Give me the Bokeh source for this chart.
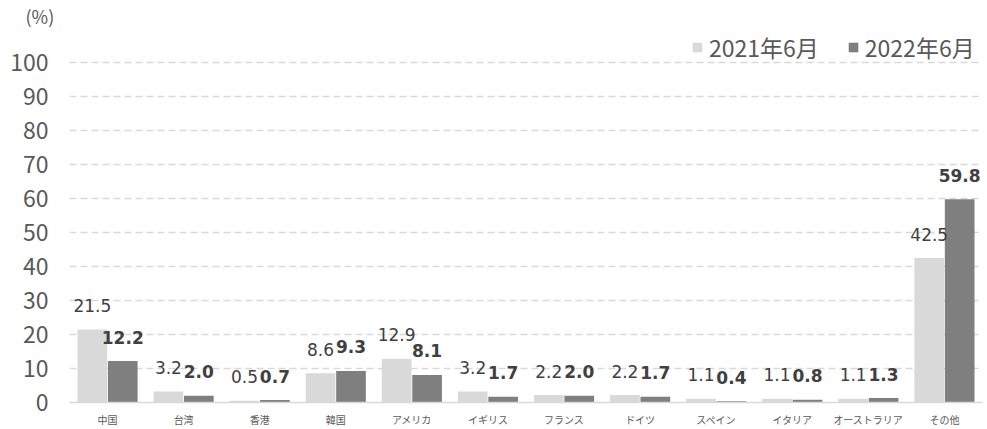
from bokeh.plotting import figure
from bokeh.models import FactorRange, Range1d, ColumnDataSource, FixedTicker
from bokeh.transform import dodge
from bokeh.core.properties import value
from bokeh.embed import file_html
from bokeh.resources import INLINE

categories = ["中国", "台湾", "香港", "韓国", "アメリカ", "イギリス", "フランス", "ドイツ", "スペイン", "イタリア", "オーストラリア", "その他"]
share_2021 = [21.5, 3.2, 0.5, 8.6, 12.9, 3.2, 2.2, 2.2, 1.1, 1.1, 1.1, 42.5]
share_2022 = [12.2, 2.0, 0.7, 9.3, 8.1, 1.7, 2.0, 1.7, 0.4, 0.8, 1.3, 59.8]
series_names = ["2021年6月", "2022年6月"]
y_ticks = list(range(0, 101, 10))

src = ColumnDataSource(dict(
    cat=categories,
    v2021=share_2021,
    v2022=share_2022,
    l2021=[f"{v:.1f}" for v in share_2021],
    l2022=[f"{v:.1f}" for v in share_2022],
))

JP = "Noto Sans CJK JP"
GRAY_TXT = "#595959"

p = figure(width=987, height=429, x_range=FactorRange(*categories), y_range=Range1d(0, 110.0),
           output_backend="svg", toolbar_location=None,
           min_border_left=69, min_border_right=5, min_border_top=0, min_border_bottom=27)
p.outline_line_color = None
p.background_fill_color = "white"
p.border_fill_color = "white"

p.title.text = "(%)"
p.title.align = "left"
p.title.offset = -44
p.title.standoff = 0
p.title.text_font = JP
p.title.text_font_size = "18px"
p.title.text_font_style = "normal"
p.title.text_color = GRAY_TXT

p.xgrid.grid_line_color = None
p.ygrid.grid_line_color = "#d9d9d9"
p.ygrid.grid_line_width = 1.5
p.ygrid.grid_line_dash = "7 4"

p.yaxis.ticker = FixedTicker(ticks=y_ticks)
p.yaxis.axis_line_color = None
p.yaxis.major_tick_line_color = None
p.yaxis.minor_tick_line_color = None
p.yaxis.major_label_standoff = 15
p.yaxis.major_label_text_font = JP
p.yaxis.major_label_text_font_size = "23px"
p.yaxis.major_label_text_color = GRAY_TXT

p.xaxis.axis_line_color = "#d9d9d9"
p.xaxis.axis_line_width = 1.5
p.xaxis.major_tick_line_color = None
p.xaxis.minor_tick_line_color = None
p.xaxis.major_label_standoff = 3
p.xaxis.major_label_text_font = JP
p.xaxis.major_label_text_font_size = "10px"
p.xaxis.major_label_text_color = GRAY_TXT

p.vbar(x=dodge("cat", -0.2, range=p.x_range), top="v2021", width=0.39, source=src,
       fill_color="#d9d9d9", line_color=None, legend_label=series_names[0])
p.vbar(x=dodge("cat", 0.2, range=p.x_range), top="v2022", width=0.39, source=src,
       fill_color="#7f7f7f", line_color=None, legend_label=series_names[1])

p.text(x=dodge("cat", -0.2, range=p.x_range), y="v2021", text="l2021", source=src,
       text_align="center", text_baseline="alphabetic", y_offset=-24,
       text_font=value("DejaVu Sans"), text_font_size="17px", text_color="#404040")
p.text(x=dodge("cat", 0.2, range=p.x_range), y="v2022", text="l2022", source=src,
       text_align="center", text_baseline="alphabetic", y_offset=-24,
       text_font=value("DejaVu Sans"), text_font_size="17px", text_font_style="bold",
       text_color="#404040")

lg = p.legend[0]
lg.location = (622, 338)
lg.orientation = "horizontal"
lg.margin = 0
lg.padding = 0
lg.spacing = 28
lg.label_standoff = 6
lg.glyph_width = 12
lg.glyph_height = 12
lg.background_fill_alpha = 0
lg.border_line_color = None
lg.label_text_font = JP
lg.label_text_font_size = "23px"
lg.label_text_color = GRAY_TXT

open("out.html", "w").write(file_html(p, INLINE))
